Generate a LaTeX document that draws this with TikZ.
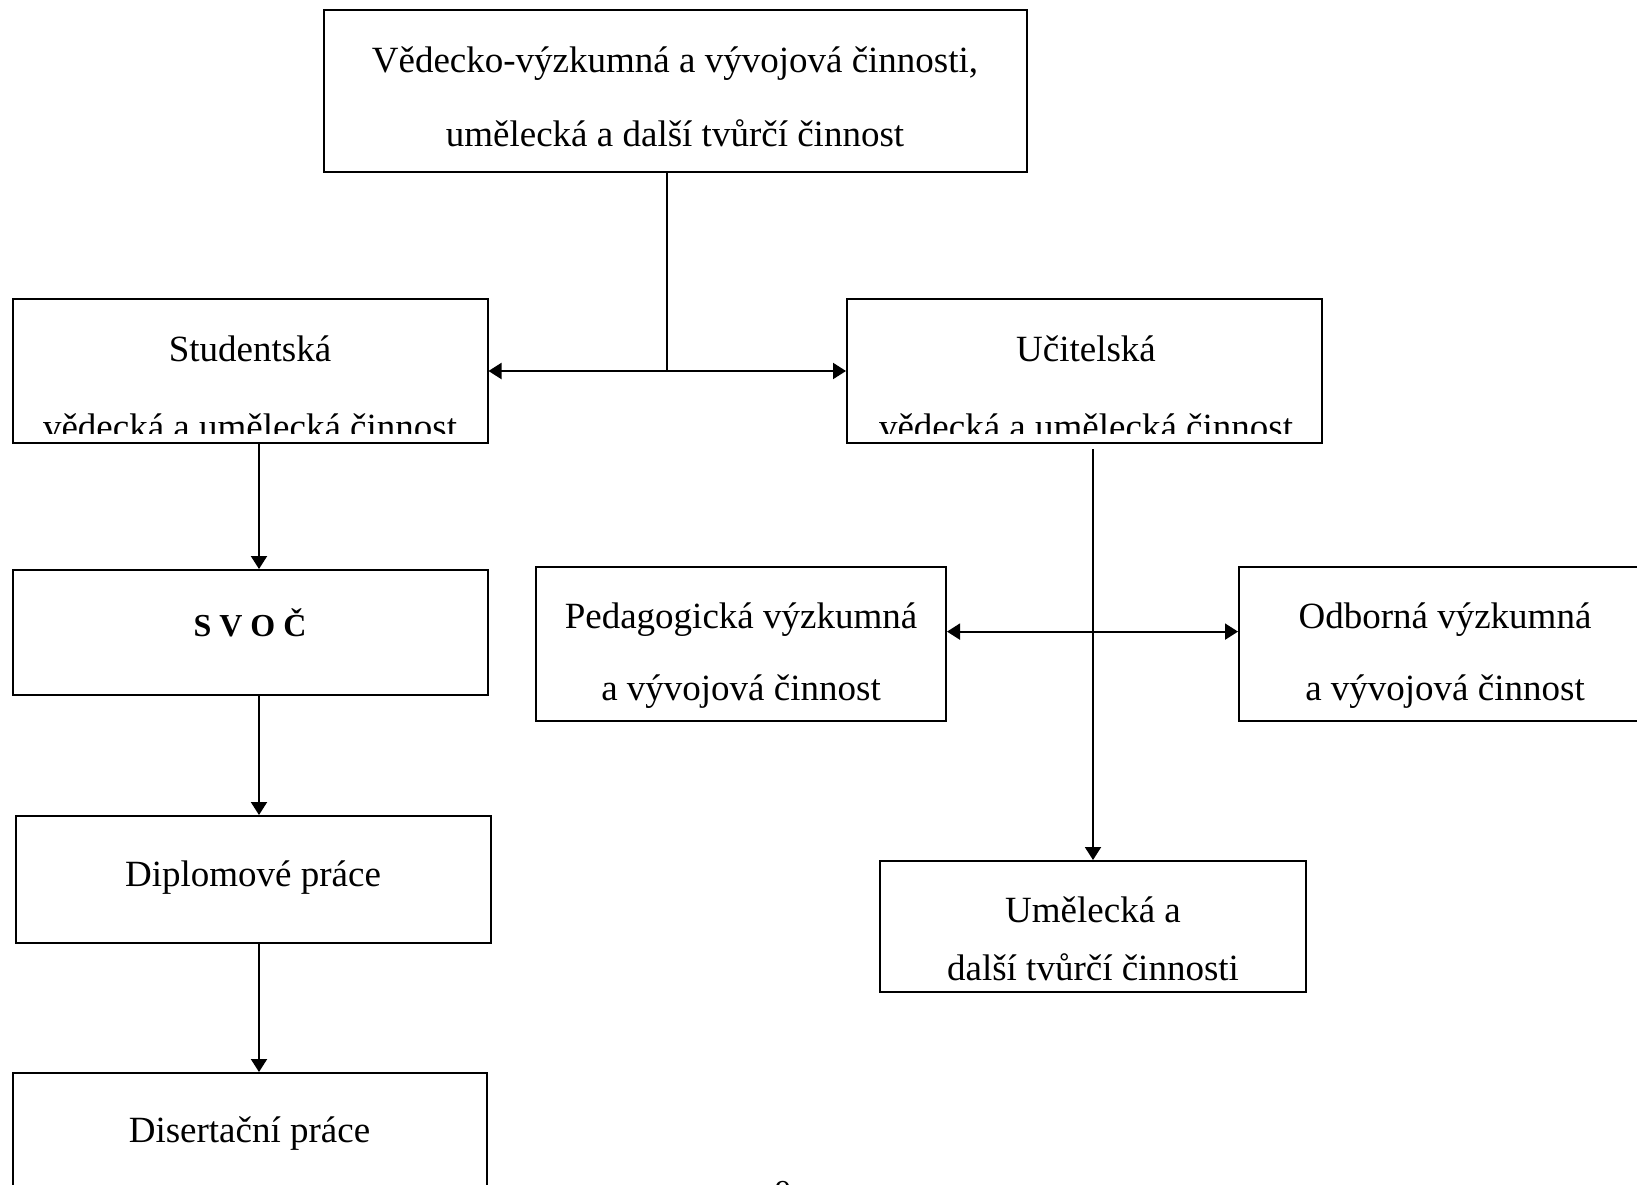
\documentclass[tikz,border=0pt]{standalone}
\usepackage{fontspec}
\setmainfont{Liberation Serif}
\usetikzlibrary{arrows.meta}
\begin{document}
\begin{tikzpicture}[x=1pt,y=1pt,
	box/.style={draw=black,line width=2pt,inner sep=0pt},
	txt/.style={anchor=base,inner sep=0pt,font=\fontsize{37}{44}\selectfont},
	conn/.style={draw=black,line width=2pt},
	tip/.style={-{Triangle[length=13pt,width=16pt]}},
	dbl/.style={{Triangle[length=13pt,width=16pt]}-{Triangle[length=13pt,width=16pt]}}]
	\useasboundingbox (0,0) rectangle (1637,-1184);
	\fill [white] (0,0) rectangle (1637,-1184);
	% frames
	\node [box,minimum width=703,minimum height=162] (vv) at (675.5,-91) {};
	\node [box,minimum width=475,minimum height=144] (stud) at (250,-371) {};
	\node [box,minimum width=475,minimum height=144] (ucit) at (1084.5,-371) {};
	\node [box,minimum width=475,minimum height=125] (svoc) at (250,-632.5) {};
	\node [box,minimum width=410,minimum height=154] (ped) at (741,-644) {};
	\node [box,minimum width=412,minimum height=154] (odb) at (1445,-644) {};
	\node [box,minimum width=475,minimum height=127] (dipl) at (253,-879.5) {};
	\node [box,minimum width=426,minimum height=131] (umel) at (1093,-926.5) {};
	\node [box,minimum width=474,minimum height=120] (disert) at (249.5,-1133) {};
	% texts
	\node [txt] (vvA) at (675,-72) {Vědecko-výzkumná a vývojová činnosti,};
	\node [txt] (vvB) at (675,-146) {umělecká a další tvůrčí činnost};
	\node [txt] (studA) at (250,-361) {Studentská};
	\node [txt] (ucitA) at (1086,-361) {Učitelská};
	\begin{scope}
		\clip (0,-299) rectangle (1637,-433);
		\node [txt] (studB) at (250,-439) {vědecká a umělecká činnost};
		\node [txt] (ucitB) at (1086,-439) {vědecká a umělecká činnost};
	\end{scope}
	\node [txt,font=\fontsize{32}{38}\selectfont\bfseries] (svocA) at (250,-636) {S V O Č};
	\node [txt] (pedA) at (741,-628) {Pedagogická výzkumná};
	\node [txt] (pedB) at (741,-700) {a vývojová činnost};
	\node [txt] (odbA) at (1445,-628) {Odborná výzkumná};
	\node [txt] (odbB) at (1445,-700) {a vývojová činnost};
	\node [txt] (diplA) at (253,-886) {Diplomové práce};
	\node [txt] (umelA) at (1093,-922) {Umělecká a};
	\node [txt] (umelB) at (1093,-980) {další tvůrčí činnosti};
	\node [txt] (disertA) at (249.5,-1142) {Disertační práce};
	\node [txt,font=\fontsize{32}{38}\selectfont] (pg) at (783,-1202) {9};
	% connectors
	\coordinate (split) at (667,-371);
	\draw [conn] (split |- vv.south) -- (split);
	\draw [conn,dbl] (stud.east) -- (ucit.west);
	\coordinate (scol) at (259,0);
	\draw [conn,tip] (scol |- stud.south) -- (scol |- svoc.north);
	\draw [conn,tip] (scol |- svoc.south) -- (scol |- dipl.north);
	\draw [conn,tip] (scol |- dipl.south) -- (scol |- disert.north);
	\draw [conn,tip] ([yshift=-5]ucit.south -| umel.north) -- (umel.north);
	\coordinate (pedrow) at (0,-631.6);
	\draw [conn,dbl] (ped.east |- pedrow) -- (odb.west |- pedrow);
\end{tikzpicture}
\end{document}
